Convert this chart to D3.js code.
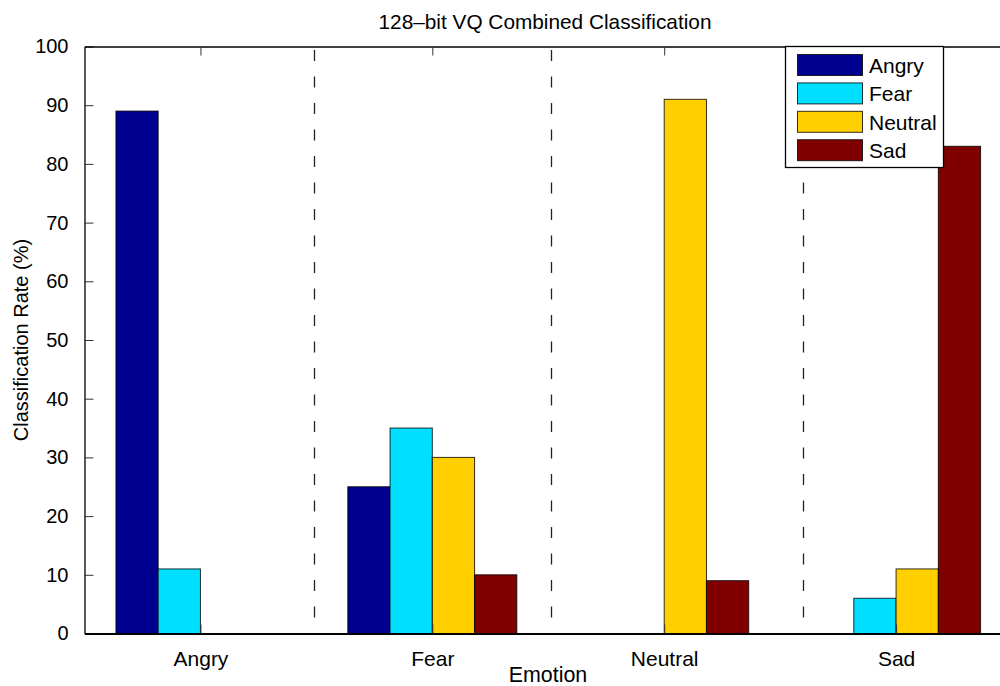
<!DOCTYPE html>
<html>
<head>
<meta charset="utf-8">
<script src="https://cdn.jsdelivr.net/npm/d3@7"></script>
<style>
  body { margin: 0; background: #fff; }
  svg text { font-family: "Liberation Sans", Arial, Helvetica, sans-serif; fill: #000; }
</style>
</head>
<body>
<svg id="chart" width="1000" height="686"></svg>
<script>
// chart data
var categories = ["Angry", "Fear", "Neutral", "Sad"];
var seriesNames = ["Angry", "Fear", "Neutral", "Sad"];
var seriesColors = ["#00008f", "#00dfff", "#ffcf00", "#800000"];
// rows = true emotion (x category), columns = classified as (series)
var angryRow = [89, 11, 0, 0];
var fearRow = [25, 35, 30, 10];
var neutralRow = [0, 0, 91, 9];
var sadRow = [0, 6, 11, 83];
var yTicks = [0, 10, 20, 30, 40, 50, 60, 70, 80, 90, 100];
var separators = [1.49, 2.51, 3.6]; // dashed dividers, in x data units

var rows = [angryRow, fearRow, neutralRow, sadRow];

var margin = { left: 84.5, top: 46.5, right: 1012, bottom: 633.5 };
var svg = d3.select("#chart");

var x = d3.scaleLinear().domain([0.5, 4.5]).range([margin.left, margin.right]);
var y = d3.scaleLinear().domain([0, 100]).range([margin.bottom, margin.top]);

var groupW = 0.729; // fraction of category spacing taken by a group
var barW = groupW / seriesNames.length;

// bars
var g = svg.append("g");
rows.forEach(function (vals, i) {
    g.selectAll(null)
        .data(vals)
        .enter().append("rect")
        .attr("x", function (d, j) { return x(i + 1 - groupW / 2 + j * barW); })
        .attr("width", function () { return x(barW) - x(0); })
        .attr("y", function (d) { return y(d); })
        .attr("height", function (d) { return y(0) - y(d); })
        .style("fill", function (d, j) { return seriesColors[j]; })
        .style("stroke", "#000")
        .style("stroke-opacity", 0.8)
        .style("stroke-width", 1);
});

// dashed separators
svg.selectAll(".sep")
    .data(separators)
    .enter().append("line")
    .attr("class", "sep")
    .attr("x1", function (d) { return Math.round(x(d)) + 0.5; })
    .attr("x2", function (d) { return Math.round(x(d)) + 0.5; })
    .attr("y1", 50)
    .attr("y2", margin.bottom)
    .style("stroke", "#222")
    .style("stroke-width", 1.3)
    .style("stroke-dasharray", "11,15.5");

// axes box
var yAxis = d3.axisLeft(y).tickValues(yTicks).tickSizeInner(-9).tickSizeOuter(0).tickPadding(16);
var ay = svg.append("g").attr("transform", "translate(" + margin.left + ",0)").call(yAxis);
var xAxis = d3.axisBottom(x).tickValues([1, 2, 3, 4]).tickFormat(function (d) { return categories[d - 1]; })
    .tickSizeInner(-9).tickSizeOuter(0).tickPadding(18);
var ax = svg.append("g").attr("transform", "translate(0," + margin.bottom + ")").call(xAxis);
var xTop = d3.axisTop(x).tickValues([1, 2, 3, 4]).tickFormat("").tickSizeInner(-9).tickSizeOuter(0);
var at = svg.append("g").attr("transform", "translate(0," + margin.top + ")").call(xTop);

[ay, ax, at].forEach(function (a) {
    a.select(".domain").style("stroke", "#000").style("stroke-width", 1.3);
    a.selectAll(".tick line").style("stroke", "#333").style("stroke-width", 1);
    a.selectAll("text").style("font-size", "20px").style("font-family", "Liberation Sans, Arial, sans-serif");
});
ax.selectAll("text").style("font-size", "21px");
ax.select(".domain").style("stroke-width", 2);

// titles
svg.append("text").attr("x", 545).attr("y", 29).attr("text-anchor", "middle")
    .style("font-size", "20.8px").text("128\u2013bit VQ Combined Classification");
svg.append("text").attr("x", 548).attr("y", 682).attr("text-anchor", "middle")
    .style("font-size", "21.4px").text("Emotion");
svg.append("text").attr("transform", "translate(28,340) rotate(-90)").attr("text-anchor", "middle")
    .style("font-size", "20px").text("Classification Rate (%)");

// legend
var lg = svg.append("g");
lg.append("rect").attr("x", 785.5).attr("y", 46.5).attr("width", 158).attr("height", 121)
    .style("fill", "#fff").style("stroke", "#000").style("stroke-width", 1.3);
var items = lg.selectAll(".item").data(seriesNames).enter().append("g")
    .attr("transform", function (d, i) { return "translate(0," + (54.5 + i * 28.4) + ")"; });
items.append("rect").attr("x", 797.5).attr("width", 65).attr("height", 21)
    .style("fill", function (d, i) { return seriesColors[i]; })
    .style("stroke", "#000").style("stroke-opacity", 0.8);
items.append("text").attr("x", 869).attr("y", 18.5).style("font-size", "21px").text(function (d) { return d; });
</script>
</body>
</html>
